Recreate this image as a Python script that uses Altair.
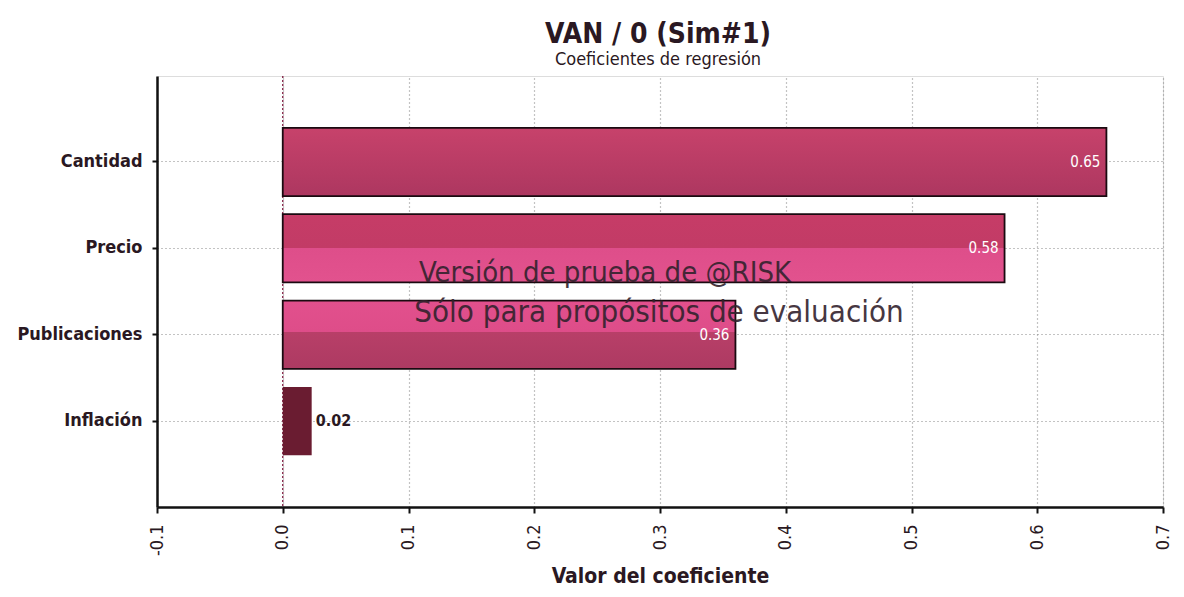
import altair as alt
import pandas as pd

# ---- data ----
categories = ["Cantidad", "Precio", "Publicaciones", "Inflación"]
values = [0.655, 0.574, 0.360, 0.023]
labels = ["0.65", "0.58", "0.36", "0.02"]
x_ticks = [-0.1, 0.0, 0.1, 0.2, 0.3, 0.4, 0.5, 0.6, 0.7]

df = pd.DataFrame({"cat": categories, "val": values, "lab": labels})

FONT = "DejaVu Sans Condensed, DejaVu Sans"
TXT = "#2a1822"

def grad(stops):
    return alt.LinearGradient(
        gradient="linear", x1=0, x2=0, y1=0, y2=1,
        stops=[alt.GradientStop(color=c, offset=o) for o, c in stops],
    )

bar_styles = {
    "Cantidad": grad([(0, "#c7426b"), (1, "#ad3760")]),
    "Precio": grad([(0, "#c63c67"), (0.5, "#c23b66"), (0.5, "#de4e8a"), (1, "#e2528e")]),
    "Publicaciones": grad([(0, "#e2508d"), (0.46, "#de4d89"), (0.46, "#b83f68"), (1, "#ad3a62")]),
}

xscale = alt.Scale(domain=[-0.1, 0.7], nice=False, zero=False)
yscale = alt.Scale(domain=categories, paddingInner=0.21, paddingOuter=0.6)

xenc = alt.X("val:Q", scale=xscale, axis=alt.Axis(
    values=x_ticks,
    labelExpr="datum.value < 0 ? '-' + format(-datum.value, '.1f') : format(datum.value, '.1f')",
    labelAngle=270, labelFontSize=18, labelColor=TXT,
    labelFont=FONT, labelPadding=11, tickSize=6, tickColor="#111", tickWidth=2,
    domainColor="#111", domainWidth=2.5, grid=True, gridColor="#888",
    gridDash=[1, 3], gridWidth=1.2, title="Valor del coeficiente", titleFontSize=21,
    titleFont=FONT, titleFontWeight="bold", titleColor=TXT, titlePadding=10))
yenc = alt.Y("cat:N", scale=yscale, sort=categories, axis=alt.Axis(
    labelFontSize=18, labelFont=FONT, labelFontWeight="bold", labelColor=TXT,
    labelPadding=10, tickSize=5, tickColor="#111", tickWidth=2, domainColor="#111",
    domainWidth=2.5, grid=True, gridColor="#888", gridDash=[1, 3], gridWidth=1.2,
    title=None))

base = alt.Chart(df)

layers = []
for cat, g in bar_styles.items():
    layers.append(
        base.transform_filter(alt.datum.cat == cat)
        .mark_bar(color=g, stroke="#1a0a10", strokeWidth=1.8)
        .encode(x=xenc, x2=alt.datum(0), y=yenc)
    )
layers.append(
    base.transform_filter(alt.datum.cat == "Inflación")
    .mark_bar(color="#6a1c31")
    .encode(x=xenc, x2=alt.datum(0), y=yenc)
)

zero_rule = alt.Chart(pd.DataFrame({"z": [0.0]})).mark_rule(
    color="#8a3252", strokeDash=[2, 2], strokeWidth=1.5
).encode(x=alt.X("z:Q", scale=xscale))

in_labels = base.transform_filter(alt.datum.cat != "Inflación").mark_text(
    align="right", baseline="middle", dx=-6, color="white", fontSize=15, font=FONT
).encode(x=alt.X("val:Q", scale=xscale), y=alt.Y("cat:N", scale=yscale, sort=categories), text="lab:N")

out_label = base.transform_filter(alt.datum.cat == "Inflación").mark_text(
    align="left", baseline="middle", dx=4, color=TXT, fontSize=16, fontWeight="bold", font=FONT
).encode(x=alt.X("val:Q", scale=xscale), y=alt.Y("cat:N", scale=yscale, sort=categories), text="lab:N")

wm = pd.DataFrame({"t": ["Versión de prueba de @RISK", "Sólo para propósitos de evaluación"],
                   "px": [448, 502], "py": [206, 246], "fs": [29, 31]})
watermark = alt.Chart(wm).mark_text(
    align="center", baseline="alphabetic", font=FONT, color="#33222d", opacity=0.9
).encode(x=alt.X("px:Q", scale=None), y=alt.Y("py:Q", scale=None), text="t:N",
         size=alt.Size("fs:Q", scale=None, legend=None))

chart = alt.layer(zero_rule, *layers, in_labels, out_label, watermark).properties(
    width=1006, height=431,
    title=alt.TitleParams(
        "VAN / 0 (Sim#1)", subtitle="Coeficientes de regresión", fontSize=28,
        font=FONT, fontWeight="bold", color=TXT, subtitleFont=FONT, subtitleFontSize=18,
        subtitleColor=TXT, anchor="middle", offset=6, subtitlePadding=2, dx=-2),
    padding={"left": 149, "top": 68, "right": 13, "bottom": 82},
    autosize=alt.AutoSizeParams(type="none"),
).configure_view(stroke="#aaa", strokeDash=[2, 2], strokeWidth=1.5).configure(background="white")

chart.save("out.html", embed_options={"renderer": "svg", "actions": False})
